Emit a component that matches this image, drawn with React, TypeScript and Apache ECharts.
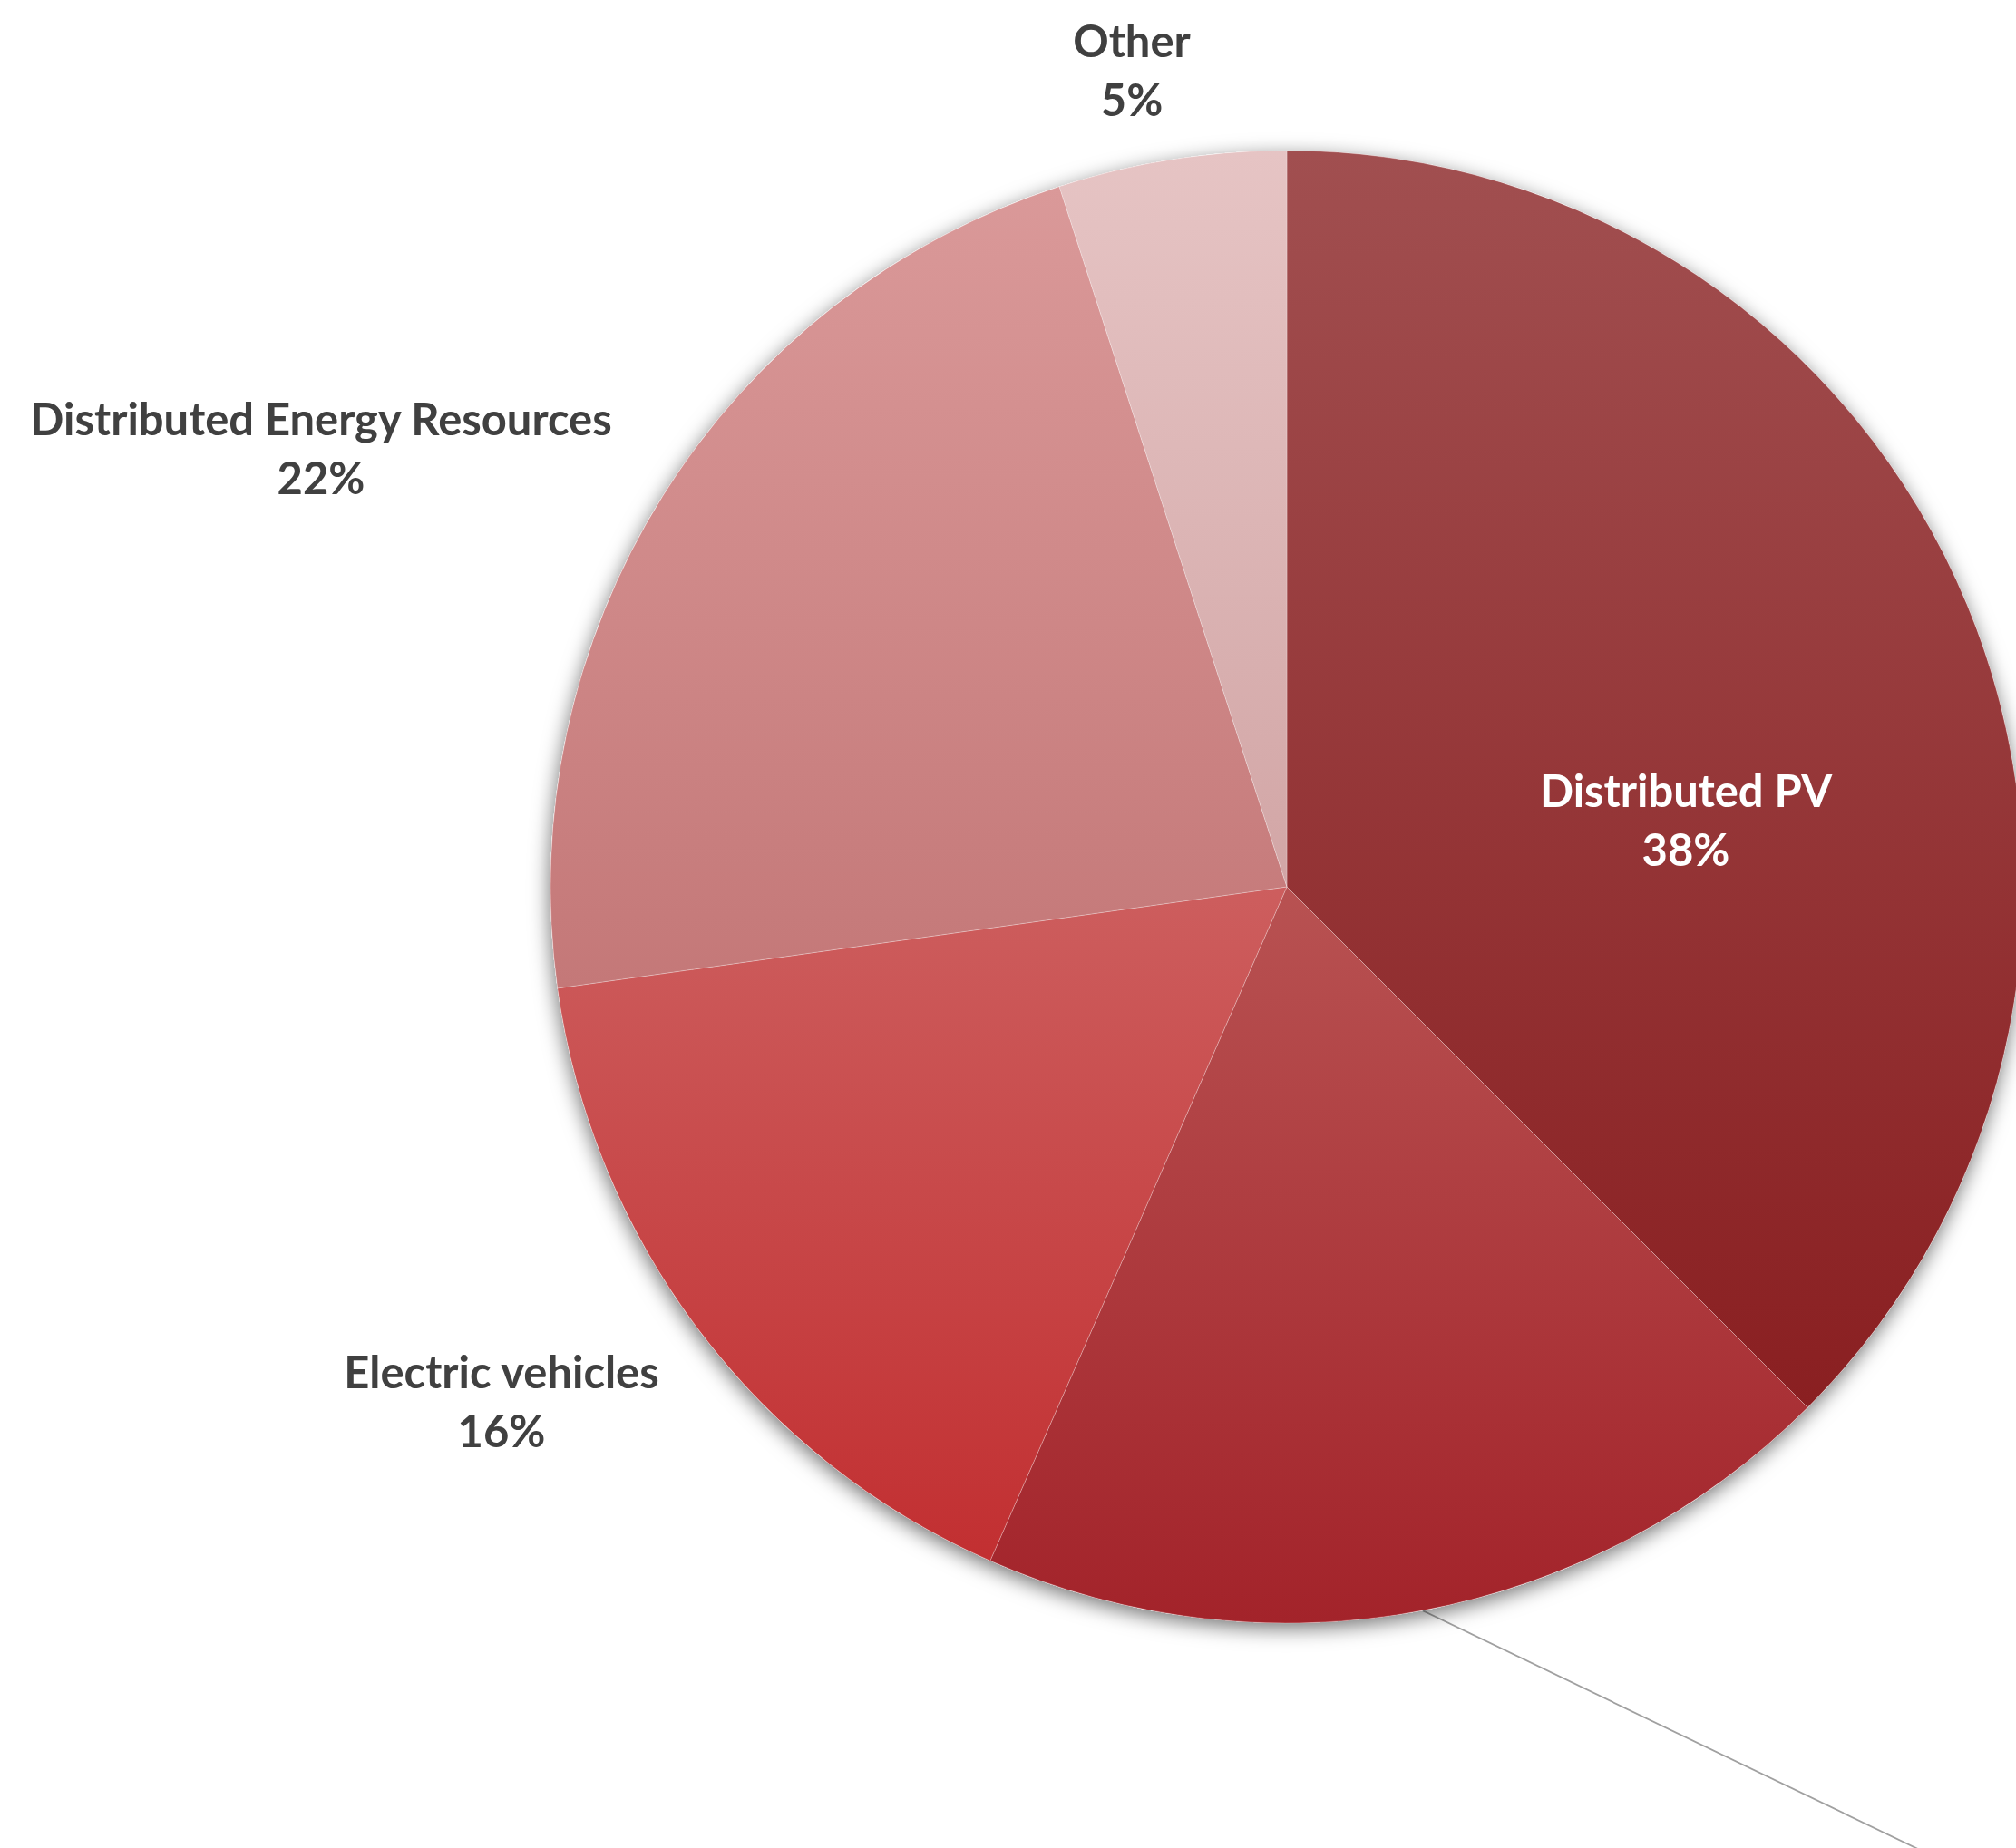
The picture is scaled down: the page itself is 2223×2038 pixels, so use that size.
import React, { useEffect, useRef } from 'react';
import * as echarts from 'echarts';

// ---- data ----
const categories = ['Distributed PV', '', 'Electric vehicles', 'Distributed Energy Resources', 'Other'];
const shares = [37.5, 19.1, 16.2, 22.2, 5.0];

// ---- styles ----
const gradientTop = ['#A14F50', '#B85252', '#CD5E5E', '#DA9999', '#E6C4C4'];
const gradientBottom = ['#8A1F21', '#A3232A', '#C22F31', '#C47878', '#D2A6A6'];
const labelColors = ['#FFFFFF', '#404040', '#404040', '#404040', '#404040'];
const showLeader = [false, true, false, false, false];

// ---- layout ----
const W = 2223;
const H = 2038;
const pieCenter = [1419, 978];
const pieRadius = 812;
const labelAnchors: ([number, number] | null)[] = [[1859, 903], null, [553, 1544], [354, 493], [1248, 76]];
const leaderDir = [538, 259];
const fontFamily = 'Lato, "Open Sans", sans-serif';

function fitFontSize(): number {
  try {
    const ctx = document.createElement('canvas').getContext('2d');
    if (!ctx) return 49;
    ctx.font = 'bold 100px Lato';
    const w = ctx.measureText('Distributed Energy Resources').width;
    if (!w) return 49;
    return Math.round((100 * 643) / w * 10) / 10;
  } catch (e) {
    return 49;
  }
}

export default function App() {
  const ref = useRef<HTMLDivElement>(null);

  useEffect(() => {
    if (!ref.current) return;
    document.body.style.margin = '0';
    const chart = echarts.init(ref.current, undefined, { renderer: 'svg' });
    const fs = fitFontSize();

    const data = categories.map((name, i) => ({
      name,
      value: shares[i],
      itemStyle: {
        color: new echarts.graphic.LinearGradient(0, 0, 0, 1, [
          { offset: 0, color: gradientTop[i] },
          { offset: 1, color: gradientBottom[i] },
        ]),
      },
      label: { color: labelColors[i] },
      labelLine: { show: showLeader[i] },
    }));

    chart.setOption({
      animation: false,
      backgroundColor: '#FFFFFF',
      series: [
        {
          type: 'pie',
          silent: true,
          center: pieCenter,
          radius: pieRadius,
          label: { show: false },
          labelLine: { show: false },
          data: [
            {
              value: 1,
              name: '',
              itemStyle: {
                color: '#FFFFFF',
                shadowBlur: 22,
                shadowOffsetX: -1,
                shadowOffsetY: 6,
                shadowColor: 'rgba(0,0,0,0.55)',
              },
            },
          ],
        },
        {
          type: 'pie',
          silent: true,
          center: pieCenter,
          radius: pieRadius,
          startAngle: 90,
          clockwise: true,
          avoidLabelOverlap: false,
          itemStyle: { borderColor: 'rgba(255,255,255,0.25)', borderWidth: 1 },
          label: {
            show: true,
            position: 'outside',
            fontFamily,
            fontWeight: 'bold',
            fontSize: fs,
            lineHeight: 65,
            align: 'center',
            formatter: (p: any) => (p.name ? `${p.name}\n${Math.round(p.value)}%` : ''),
          },
          labelLine: {
            show: false,
            lineStyle: { color: '#A0A0A0', width: 1.8 },
          },
          labelLayout: (params: any) => {
            const anchor = labelAnchors[params.dataIndex];
            if (anchor) {
              return { x: anchor[0], y: anchor[1], align: 'center', verticalAlign: 'middle' };
            }
            const pts = params.labelLinePoints;
            if (!pts || !pts.length) return {};
            const p0 = pts[0];
            const end = [p0[0] + leaderDir[0] * 1.3, p0[1] + leaderDir[1] * 1.3];
            return { x: end[0], y: end[1], labelLinePoints: [p0, end, end] };
          },
          data,
        },
      ],
    });

    return () => chart.dispose();
  }, []);

  return (
    <div
      ref={ref}
      style={{ position: 'fixed', left: 0, top: 0, width: W, height: H, background: '#FFFFFF' }}
    />
  );
}
